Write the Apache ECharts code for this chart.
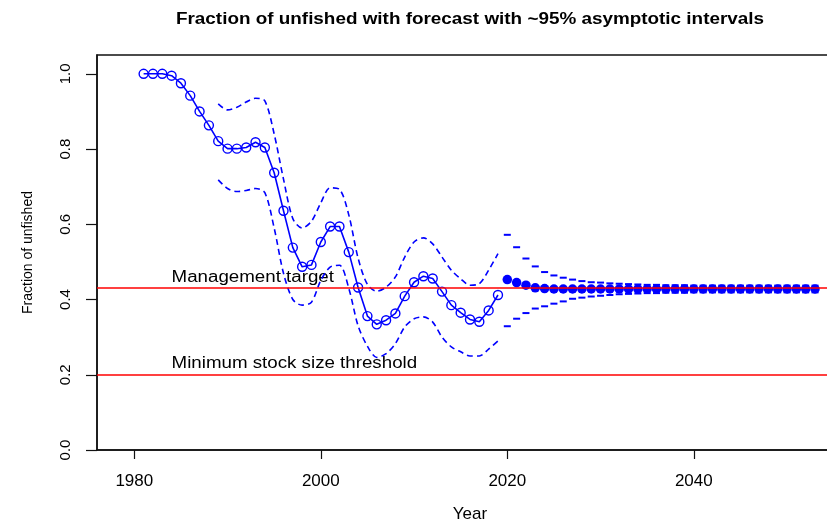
<!DOCTYPE html>
<html>
<head>
<meta charset="utf-8">
<title>Fraction of unfished</title>
<script src="https://cdn.jsdelivr.net/npm/echarts@6/dist/echarts.min.js"></script>
<style>
  html, body { margin: 0; padding: 0; background: #fff; }
  #chart { width: 827px; height: 527px; }
</style>
</head>
<body>
<div id="chart"></div>
<script>
// ---- data ---------------------------------------------------------------
const histStart = 1981;          // first assessed year
const ciStart = 1989;            // first year with an interval
const fcStart = 2020;            // first forecast year

// estimated fraction of unfished biomass, 1981-2019
const fraction = [
  1.000, 1.000, 1.000, 0.995, 0.975, 0.942, 0.900, 0.863, 0.821, 0.801,
  0.801, 0.804, 0.818, 0.804, 0.737, 0.636, 0.538, 0.487, 0.492, 0.553,
  0.594, 0.594, 0.526, 0.432, 0.356, 0.334, 0.345, 0.363, 0.409, 0.446,
  0.462, 0.456, 0.421, 0.385, 0.365, 0.347, 0.341, 0.371, 0.412
];
// ~95% interval bounds, 1989-2019
const upperHist = [
  0.920, 0.904, 0.911, 0.925, 0.935, 0.928, 0.840, 0.720, 0.615, 0.590,
  0.608, 0.657, 0.697, 0.693, 0.625, 0.510, 0.440, 0.422, 0.433, 0.460,
  0.513, 0.553, 0.564, 0.548, 0.513, 0.478, 0.455, 0.438, 0.442, 0.478, 0.522
];
const lowerHist = [
  0.718, 0.695, 0.687, 0.690, 0.695, 0.684, 0.590, 0.470, 0.400, 0.385,
  0.393, 0.451, 0.486, 0.491, 0.430, 0.330, 0.276, 0.246, 0.256, 0.283,
  0.327, 0.349, 0.354, 0.340, 0.300, 0.274, 0.261, 0.250, 0.250, 0.268, 0.290
];
// forecast, 2020-2053
const forecast = [
  0.453, 0.445, 0.438, 0.431, 0.429, 0.428, 0.428, 0.428, 0.428, 0.428,
  0.428, 0.428, 0.428, 0.428, 0.428, 0.428, 0.428, 0.428, 0.428, 0.428,
  0.428, 0.428, 0.428, 0.428, 0.428, 0.428, 0.428, 0.428, 0.428, 0.428,
  0.428, 0.428, 0.428, 0.428
];
const upperFc = [
  0.572, 0.539, 0.509, 0.488, 0.473, 0.464, 0.458, 0.453, 0.449, 0.446,
  0.445, 0.443, 0.442, 0.441, 0.440, 0.439, 0.439, 0.438, 0.438, 0.438,
  0.437, 0.437, 0.437, 0.437, 0.437, 0.437, 0.437, 0.437, 0.437, 0.437,
  0.437, 0.437, 0.437, 0.437
];
const lowerFc = [
  0.329, 0.349, 0.364, 0.376, 0.382, 0.389, 0.395, 0.402, 0.405, 0.408,
  0.410, 0.412, 0.414, 0.415, 0.416, 0.417, 0.417, 0.418, 0.418, 0.418,
  0.419, 0.419, 0.419, 0.419, 0.419, 0.419, 0.419, 0.419, 0.419, 0.419,
  0.419, 0.419, 0.419, 0.419
];
// reference points
const target = 0.428;            // management target
const msst = 0.2;                // minimum stock size threshold
// axis ticks
const xTicks = [1980, 2000, 2020, 2040];
const yTicks = [0.0, 0.2, 0.4, 0.6, 0.8, 1.0];

// ---- helpers ------------------------------------------------------------
const pairs = (start, vals) => vals.map((v, i) => [start + i, v]);
const FONT = 'Liberation Sans, Arial, Helvetica, sans-serif';
const BLUE = '#0000ff';
const X_MIN = 1976, X_MAX = 2056;

const chart = echarts.init(document.getElementById('chart'), null, { renderer: 'canvas' });

const option = {
  backgroundColor: '#ffffff',
  animation: false,
  // plot frame runs past the right edge of the page
  grid: {
    left: 97, top: 55, width: 746, height: 395,
    outerBoundsMode: 'none', containLabel: false,
    show: true, borderColor: '#111', borderWidth: 1.5, backgroundColor: 'transparent'
  },
  xAxis: {
    type: 'value', min: X_MIN, max: X_MAX,
    name: 'Year', nameLocation: 'middle', nameGap: 56,
    nameTextStyle: { fontFamily: FONT, fontSize: 17, color: '#000' },
    axisLine: { show: true, onZero: false, lineStyle: { color: '#111', width: 1.5 } },
    axisTick: { show: true, length: 9, customValues: xTicks, lineStyle: { color: '#111', width: 1.2 } },
    axisLabel: {
      customValues: xTicks, margin: 23, fontFamily: FONT, fontSize: 17, color: '#000',
      formatter: v => String(v)
    },
    splitLine: { show: false }
  },
  yAxis: {
    type: 'value', min: 0, max: 1.05,
    name: 'Fraction of unfished', nameLocation: 'middle', nameGap: 62, nameRotate: 90,
    nameTextStyle: { fontFamily: FONT, fontSize: 14, color: '#000' },
    axisLine: { show: true, onZero: false, lineStyle: { color: '#111', width: 1.5 } },
    axisTick: { show: true, length: 11, customValues: yTicks, lineStyle: { color: '#111', width: 1.2 } },
    axisLabel: {
      customValues: yTicks, rotate: 90, margin: 24,
      fontFamily: FONT, fontSize: 15, color: '#000',
      formatter: v => Number(v).toFixed(1)
    },
    splitLine: { show: false }
  },
  series: [
    {
      name: 'upper', type: 'line', data: pairs(ciStart, upperHist),
      symbol: 'none', smooth: 0.3, silent: true,
      lineStyle: { color: BLUE, width: 1.6, type: [6, 4] }
    },
    {
      name: 'lower', type: 'line', data: pairs(ciStart, lowerHist),
      symbol: 'none', smooth: 0.3, silent: true,
      lineStyle: { color: BLUE, width: 1.6, type: [6, 4] }
    },
    {
      name: 'fraction', type: 'line', data: pairs(histStart, fraction),
      symbol: 'circle', symbolSize: 9, showAllSymbol: true,
      lineStyle: { color: BLUE, width: 1.6 },
      itemStyle: { color: 'rgba(0,0,0,0)', borderColor: BLUE, borderWidth: 1.4 },
      markLine: {
        silent: true, symbol: ['none', 'none'],
        label: { show: false },
        lineStyle: { color: '#ff0000', width: 1.5, type: 'solid' },
        data: [{ yAxis: target }, { yAxis: msst }]
      },
      z: 3
    },
    {
      name: 'forecast', type: 'scatter', data: pairs(fcStart, forecast),
      symbol: 'circle', symbolSize: 9.5,
      itemStyle: { color: BLUE, opacity: 1 }, z: 4
    },
    {
      name: 'forecast upper', type: 'scatter', data: pairs(fcStart, upperFc),
      symbol: 'rect', symbolSize: [7, 2], itemStyle: { color: BLUE, opacity: 1 }, z: 2
    },
    {
      name: 'forecast lower', type: 'scatter', data: pairs(fcStart, lowerFc),
      symbol: 'rect', symbolSize: [7, 2], itemStyle: { color: BLUE, opacity: 1 }, z: 2
    }
  ]
};
chart.setOption(option);

// Title and reference-line labels, set in a slightly wide Helvetica style
const mid = chart.convertToPixel({ gridIndex: 0 }, [(X_MIN + X_MAX) / 2, 0]);
const tPos = chart.convertToPixel({ gridIndex: 0 }, [1984, target]);
const mPos = chart.convertToPixel({ gridIndex: 0 }, [1984, msst]);
const textEl = (txt, x, y, size, weight, align, sx) => ({
  type: 'text', x: x, y: y, scaleX: sx, silent: true,
  style: {
    text: txt, fill: '#000',
    font: weight + ' ' + size + 'px ' + FONT,
    textAlign: align, align: align,
    textVerticalAlign: 'bottom', verticalAlign: 'bottom'
  }
});
chart.setOption({
  graphic: [
    textEl('Fraction of unfished with forecast with ~95% asymptotic intervals', mid[0], 28, 16, 'bold', 'center', 1.18),
    textEl('Management target', tPos[0], tPos[1] - 3, 16, 'normal', 'left', 1.17),
    textEl('Minimum stock size threshold', mPos[0], mPos[1] - 3, 16, 'normal', 'left', 1.17)
  ]
});
</script>
</body>
</html>
